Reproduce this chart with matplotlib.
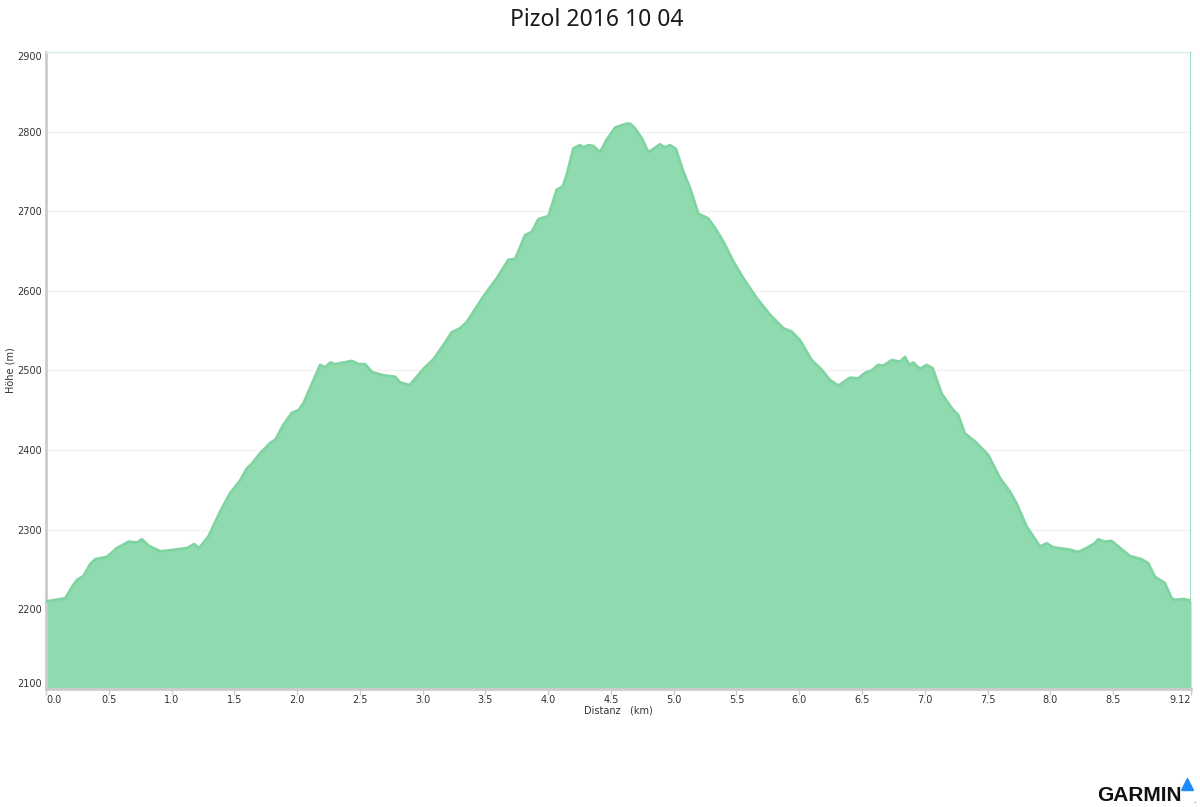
"""
Elevation profile "Pizol 2016 10 04" (Garmin style area chart).
"""

import matplotlib
matplotlib.use("Agg")
import matplotlib.pyplot as plt

# distance (km) and elevation (m)
km = [0.0, 0.154, 0.207, 0.247, 0.299, 0.353, 0.393, 0.486, 0.565, 0.658,
      0.725, 0.764, 0.817, 0.910, 0.976, 1.123, 1.181, 1.221, 1.295, 1.388,
      1.467, 1.547, 1.600, 1.640, 1.706, 1.786, 1.826, 1.892, 1.959, 2.011,
      2.051, 2.184, 2.224, 2.264, 2.303, 2.436, 2.489, 2.542, 2.596, 2.688,
      2.781, 2.821, 2.887, 2.900, 3.006, 3.086, 3.166, 3.232, 3.299, 3.352,
      3.484, 3.591, 3.683, 3.737, 3.816, 3.869, 3.922, 4.002, 4.068, 4.116,
      4.148, 4.201, 4.254, 4.280, 4.320, 4.360, 4.413, 4.467, 4.533, 4.586,
      4.626, 4.652, 4.692, 4.745, 4.798, 4.891, 4.931, 4.971, 5.018, 5.076,
      5.130, 5.196, 5.275, 5.329, 5.395, 5.475, 5.554, 5.661, 5.767, 5.873,
      5.939, 6.006, 6.099, 6.178, 6.244, 6.311, 6.404, 6.470, 6.523, 6.576,
      6.629, 6.669, 6.736, 6.802, 6.842, 6.876, 6.908, 6.961, 7.014, 7.062,
      7.134, 7.213, 7.266, 7.319, 7.399, 7.505, 7.598, 7.678, 7.731, 7.811,
      7.917, 7.970, 8.022, 8.155, 8.221, 8.288, 8.354, 8.381, 8.434, 8.487,
      8.633, 8.726, 8.779, 8.832, 8.912, 8.965, 8.991, 9.057, 9.12]
elev = [2210, 2214, 2228, 2237, 2242, 2257, 2263, 2266, 2277, 2285,
        2284, 2288, 2280, 2273, 2274, 2277, 2282, 2277, 2292, 2323,
        2346, 2362, 2377, 2383, 2396, 2409, 2413, 2432, 2447, 2450,
        2459, 2507, 2504, 2510, 2508, 2512, 2508, 2508, 2498, 2494,
        2492, 2485, 2482, 2482, 2502, 2514, 2532, 2548, 2553, 2561,
        2593, 2616, 2639, 2640, 2670, 2674, 2690, 2694, 2727, 2731,
        2746, 2779, 2783, 2780, 2783, 2782, 2774, 2790, 2805, 2808,
        2810, 2810, 2804, 2792, 2774, 2784, 2780, 2783, 2778, 2750,
        2729, 2697, 2691, 2679, 2662, 2637, 2616, 2591, 2570, 2553,
        2549, 2538, 2513, 2501, 2488, 2481, 2491, 2490, 2497, 2500,
        2507, 2506, 2513, 2511, 2517, 2507, 2510, 2502, 2507, 2503,
        2471, 2453, 2444, 2421, 2411, 2394, 2365, 2348, 2333, 2304,
        2279, 2283, 2278, 2275, 2272, 2277, 2283, 2288, 2285, 2286,
        2267, 2263, 2258, 2241, 2233, 2214, 2212, 2213, 2211]

x_ticks = [0.0, 0.5, 1.0, 1.5, 2.0, 2.5, 3.0, 3.5, 4.0, 4.5, 5.0, 5.5,
           6.0, 6.5, 7.0, 7.5, 8.0, 8.5, 9.12]
x_labels = ["0.0", "0.5", "1.0", "1.5", "2.0", "2.5", "3.0", "3.5", "4.0",
            "4.5", "5.0", "5.5", "6.0", "6.5", "7.0", "7.5", "8.0", "8.5", "9.12"]
y_ticks = [2100, 2200, 2300, 2400, 2500, 2600, 2700, 2800, 2900]

FILL = "#8fdbaf"
EDGE = "#80d4a2"

fig = plt.figure(figsize=(12, 8.07), dpi=100)
ax = fig.add_axes([0.0383, 0.1462, 0.9542, 0.7894])

ax.fill_between(km, elev, 2100, color=FILL, lw=0, zorder=2)
ax.plot(km, elev, color=EDGE, lw=2, solid_joinstyle="round", zorder=3)
ax.axvline(9.12, color=FILL, lw=2, zorder=3)

ax.set_xlim(0, 9.12)
ax.set_ylim(2100, 2900)

# grid + spines
ax.set_yticks(y_ticks)
ax.yaxis.grid(True, color="#f2f2f2", lw=1)
ax.set_axisbelow(True)
for s in ["left", "bottom"]:
    ax.spines[s].set_color("#cccccc")
    ax.spines[s].set_linewidth(2)
ax.spines["right"].set_visible(False)
ax.spines["top"].set_color("#dcefe3")
ax.spines["top"].set_linewidth(1)

ax.set_xticks(x_ticks)
ax.set_xticklabels(x_labels)
ax.tick_params(axis="x", length=4, width=1, color="#cccccc", labelsize=7,
               labelcolor="#333333", pad=0)
ax.tick_params(axis="y", length=0, labelsize=7, labelcolor="#333333", pad=3)

xl = ax.get_xticklabels()
xl[0].set_ha("left")
xl[-1].set_ha("right")
yl = ax.get_yticklabels()
yl[0].set_va("bottom")
yl[-1].set_va("top")

ax.set_xlabel("Distanz   (km)", fontsize=7, color="#333333", labelpad=1)
ax.set_ylabel("Höhe (m)", fontsize=7, color="#333333")
ax.yaxis.set_label_coords(-0.027, 0.5)

fig.text(0.4975, 0.975, "Pizol 2016 10 04", ha="center", va="center",
         fontsize=16.5, family="Noto Sans", color="#1a1a1a")

# Garmin logo
fig.text(0.9142, 0.0025, "GARMIN", ha="left", va="bottom", fontsize=15,
         family="Liberation Sans", weight="bold", color="#111111")
fig.text(0.9945, 0.003, ".", ha="left", va="bottom", fontsize=6, color="#111111")
fig.lines.append(plt.Line2D([0.9893], [0.0285], marker="^", ms=9,
                            color="#1a8cff", transform=fig.transFigure))

plt.savefig("out.png", dpi=100)
